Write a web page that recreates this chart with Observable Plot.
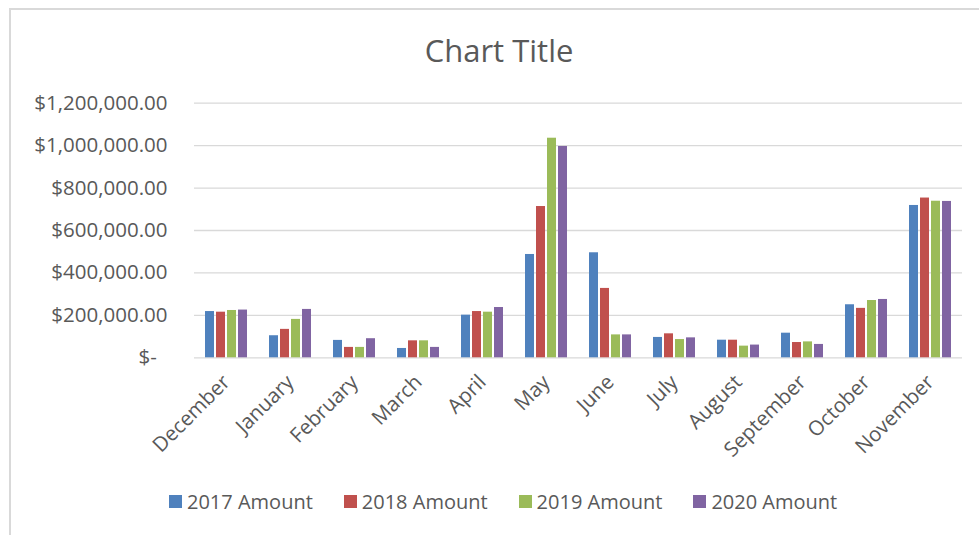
<!DOCTYPE html>
<html>
<head>
<meta charset="utf-8">
<script src="https://cdn.jsdelivr.net/npm/d3@7"></script>
<script src="https://cdn.jsdelivr.net/npm/@observablehq/plot@0.6"></script>
<style>
  html, body { margin: 0; padding: 0; background: #fff; overflow: hidden; }
  #wrap { position: relative; width: 979px; height: 535px; font-family: "Open Sans", sans-serif; color: #595959; }
  #frame { position: absolute; left: 9px; top: 8px; width: 1000px; height: 600px; border: 2px solid #d9d9d9; box-sizing: border-box; }
  #title { position: relative; height: 80px; box-sizing: border-box; padding-top: 29.5px; padding-left: 19px; text-align: center; font-size: 31px; line-height: 40px; color: #595959; }
  #chart { position: relative; height: 400px; }
  #legend { position: relative; padding-left: 169px; padding-top: 5px; }
  #legend .leg-swatch { margin-right: 31px !important; font-size: 20px; color: #595959; }
  #legend .leg-swatch > svg { margin-right: 5px !important; }
</style>
</head>
<body>
<div id="wrap">
  <div id="frame"></div>
  <div id="title">Chart Title</div>
  <div id="chart"></div>
  <div id="legend"></div>
</div>
<script>
const months = ["December","January","February","March","April","May","June","July","August","September","October","November"];
const series = ["2017 Amount","2018 Amount","2019 Amount","2020 Amount"];
const colors = ["#4f81bd","#c0504d","#9bbb59","#8064a2"];
const amount2017 = [218000,104000,82000,44000,201000,487000,495000,96000,83000,116000,250000,718000];
const amount2018 = [215000,134000,49000,80000,218000,713000,327000,113000,83000,72000,233000,753000];
const amount2019 = [223000,181000,49000,80000,215000,1035000,108000,86000,55000,75000,270000,738000];
const amount2020 = [225000,228000,90000,49000,237000,996000,108000,94000,60000,63000,275000,737000];
const yTicks = [0,200000,400000,600000,800000,1000000,1200000];

const seriesValues = [amount2017, amount2018, amount2019, amount2020];
const data = months.flatMap((m, i) => series.map((s, j) => ({month: m, series: s, amount: seriesValues[j][i]})));

const fmt = d3.format(",.2f");
const yFormat = d => d === 0 ? "$-\u00a0\u00a0" : "$" + fmt(d);

const plot = Plot.plot({
  width: 979,
  height: 400,
  marginLeft: 191,
  marginRight: 15,
  marginTop: 22.7,
  marginBottom: 122.7,
  style: {fontFamily: "Open Sans, sans-serif", fontSize: "20.5px", color: "#595959", background: "transparent", overflow: "visible"},
  fx: {domain: months, padding: 0, label: null, axis: "bottom", tickRotate: -45, tickSize: 0, tickPadding: 21},
  x: {domain: series, axis: null, paddingInner: 0.18, paddingOuter: 0.87},
  y: {domain: [0, 1200000], ticks: yTicks, tickFormat: yFormat, tickSize: 0, tickPadding: 27, label: null},
  color: {domain: series, range: colors},
  marks: [
    Plot.ruleY(yTicks, {stroke: "#d9d9d9", strokeWidth: 1.3}),
    Plot.barY(data, {fx: "month", x: "series", y: "amount", fill: "series"})
  ]
});
document.getElementById("chart").appendChild(plot);

const legend = Plot.legend({
  color: {domain: series, range: colors},
  swatchSize: 13,
  className: "leg",
  style: {fontFamily: "Open Sans, sans-serif", fontSize: "20px", color: "#595959"}
});
document.getElementById("legend").appendChild(legend);
</script>
</body>
</html>
